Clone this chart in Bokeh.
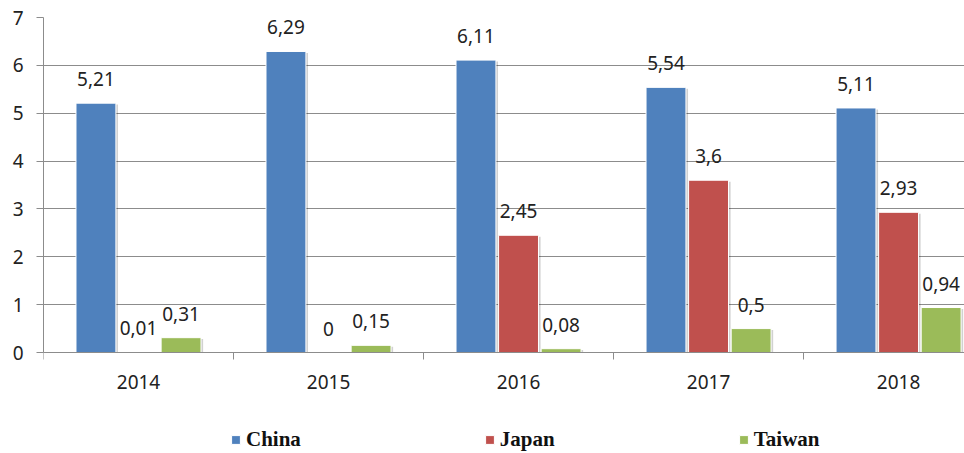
from bokeh.plotting import figure
from bokeh.models import (Range1d, FixedTicker, ColumnDataSource, Legend, LegendItem)
from bokeh.core.properties import value
from bokeh.embed import file_html
from bokeh.resources import INLINE

years = ["2014", "2015", "2016", "2017", "2018"]
series_names = ["China", "Japan", "Taiwan"]
china = [5.21, 6.29, 6.11, 5.54, 5.11]
japan = [0.01, 0.0, 2.45, 3.6, 2.93]
taiwan = [0.31, 0.15, 0.08, 0.5, 0.94]
colors = ["#4F81BD", "#C0504D", "#9BBB59"]
y_ticks = [0, 1, 2, 3, 4, 5, 6, 7]

series = [china, japan, taiwan]
offsets = [-0.224, 0.0, 0.224]
bar_w = 0.21
FONT = "Noto Sans"

# frame extends down to the bottom of the picture so the legend can sit inside it
p = figure(frame_width=921, frame_height=436, output_backend="svg", toolbar_location=None,
           x_range=Range1d(0, 4.847), y_range=Range1d(-2.11, 7),
           min_border_left=43, min_border_right=0, min_border_top=17,
           min_border_bottom=0)
p.outline_line_color = None
p.background_fill_color = "white"
p.border_fill_color = "white"

# grid
p.xgrid.grid_line_color = None
p.ygrid.grid_line_color = "#8c8c8c"
p.ygrid.grid_line_width = 1

# axes
centers = [i + 0.5 for i in range(len(years))]
xt = FixedTicker(ticks=centers, minor_ticks=[0, 1, 2, 3, 4, 5])
p.xaxis.ticker = xt
p.xaxis.fixed_location = 0
p.xaxis.major_label_overrides = {c: y for c, y in zip(centers, years)}
p.xaxis.major_tick_line_color = None
p.xaxis.major_tick_out = 0
p.xaxis.major_tick_in = 0
p.xaxis.minor_tick_line_color = "#8c8c8c"
p.xaxis.minor_tick_out = 7
p.xaxis.minor_tick_in = 0
p.xaxis.axis_line_color = "#8c8c8c"
p.xaxis.major_label_standoff = 15
p.xaxis.major_label_text_font = FONT
p.xaxis.major_label_text_font_size = "19px"
p.xaxis.major_label_text_color = "#222222"

p.yaxis.ticker = FixedTicker(ticks=y_ticks, minor_ticks=[])
p.yaxis.bounds = (0, 7)
p.yaxis.major_tick_out = 7
p.yaxis.major_tick_in = 0
p.yaxis.major_tick_line_color = "#8c8c8c"
p.yaxis.axis_line_color = "#8c8c8c"
p.yaxis.major_label_standoff = 13
p.yaxis.major_label_text_font = FONT
p.yaxis.major_label_text_font_size = "19px"
p.yaxis.major_label_text_color = "#222222"

renderers = []
for vals, off, col in zip(series, offsets, colors):
    xs = [c + off for c in centers]
    # soft shadow
    sh = ColumnDataSource(dict(x=[x + 0.011 for x in xs], top=[max(v - 0.03, 0) for v in vals]))
    p.vbar(x="x", top="top", bottom=0, width=bar_w, source=sh,
           fill_color="#000000", fill_alpha=0.18, line_color=None)
    src = ColumnDataSource(dict(x=xs, top=vals,
                                lab=[f"{v:g}".replace(".", ",") for v in vals]))
    r = p.vbar(x="x", top="top", bottom=0, width=bar_w, source=src,
               fill_color=col, line_color="white", line_width=1)
    renderers.append(r)
    p.text(x="x", y="top", text="lab", source=src, text_align="center",
           text_baseline="middle", y_offset=-24, text_font=value(FONT),
           text_font_size="19px", text_color="#222222")

legend = Legend(items=[LegendItem(label=n, renderers=[r]) for n, r in zip(series_names, renderers)],
                orientation="horizontal", location=(187, 1), spacing=183,
                glyph_width=11, glyph_height=11, label_standoff=5,
                label_text_font="Liberation Serif", label_text_font_style="bold",
                label_text_font_size="21px", label_text_color="#111111",
                border_line_color=None, background_fill_alpha=0, padding=0,
                margin=0)
p.add_layout(legend, "center")

open("out.html", "w").write(file_html(p, INLINE))
